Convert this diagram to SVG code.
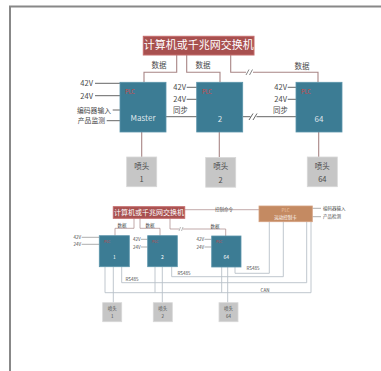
<svg xmlns="http://www.w3.org/2000/svg" width="381" height="371" viewBox="0 0 381 371">
<defs>
<style>
text{font-family:"Noto Sans CJK SC","Noto Sans",sans-serif;}
.red{fill:#a8504f;stroke:#c46a6a;stroke-width:1;}
.blue{fill:#3c7c94;stroke:#5b94aa;stroke-width:0.8;}
.gray{fill:#c6c6c6;stroke:#d8d8d8;stroke-width:0.8;}
.org{fill:#c48a62;stroke:#d4a080;stroke-width:0.8;}
.c{fill:none;stroke:#a88585;stroke-width:1.1;}
.cs{fill:none;stroke:#a88585;stroke-width:0.7;}
.g{fill:none;stroke:#b9c1c8;stroke-width:0.9;}
.k{stroke:#666;stroke-width:1;}
.ks{stroke:#777;stroke-width:0.6;}
.wt{fill:#ffffff;}
.lt{fill:#4a4a4a;}
.pl{fill:#d04848;}
</style>
</defs>
<rect width="381" height="371" fill="#fff"/>
<path d="M10 371 V6.5 H381" fill="none" stroke="#888" stroke-width="2"/>

<g id="connectors">
<path class="c" d="M176.7 55 V72.3 H144 V82"/>
<path class="c" d="M186.7 55 V72.3 H220 V82"/>
<path class="c" d="M230.7 55 V72.3 H246 M253 72.3 H318 V82"/>
<path d="M246 75 L249 69.5 M249.5 75 L252.5 69.5" stroke="#777" stroke-width="0.9"/>
<path class="k" d="M166 116.7 H197"/>
<path class="k" d="M243 116.7 H250.5 M256.5 116.7 H296"/>
<path d="M249 120 L253 113.5 M253 120 L257 113.5" stroke="#666" stroke-width="1"/>
<path class="k" d="M95 83.3 H120 M95 95.7 H120 M112.7 110 H120 M106.7 120.7 H120"/>
<path class="k" d="M186.7 87.3 H197 M186.7 99.3 H197"/>
<path class="k" d="M287.7 87.3 H296 M287.7 99.3 H296"/>
<path class="c" d="M141.7 132 V157 M219.3 132 V157 M318.7 132 V157"/>

<path class="cs" d="M134 218.3 V228.3 H115 V235.7"/>
<path class="cs" d="M140 218.3 V228.3 H160 V235.7"/>
<path class="cs" d="M170 218.3 V229 H179 M183 229 H225.7 V236"/>
<path d="M179 231 L180.5 227 M181.5 231 L183 227" stroke="#888" stroke-width="0.6"/>
<path class="cs" d="M184.7 209.7 H259"/>
<path class="ks" d="M312.3 208.3 H321 M312.3 216.7 H321"/>
<path class="ks" d="M81.7 237.3 H99.3 M81.7 244.3 H99.3"/>
<path class="ks" d="M141 239.3 H147.7 M141 247 H147.7"/>
<path class="ks" d="M204.5 239.3 H211.7 M204.5 247 H211.7"/>
<path class="g" d="M269.3 221.7 V273.3 H235 V267"/>
<path class="g" d="M283.3 221.7 V276.7 H171.7 V266.7"/>
<path class="g" d="M306.7 221.7 V282.7 H121.7 V266.7"/>
<path class="g" d="M311 221.7 V292.7 H105 V266.7 M155 292.7 V266.7 M221.7 292.7 V267"/>
<path class="g" d="M113.3 266.7 V302.7 M162.3 266.7 V302.7 M227.7 267 V302.7"/>
</g>

<g id="switch-top">
<rect class="red" x="143.3" y="36.3" width="110.7" height="18.7"/>
<text class="wt" x="198.7" y="49.3" font-size="11" text-anchor="middle">计算机或千兆网交换机</text>
</g>
<g id="labels-top" font-size="7.5">
<text class="lt" x="159" y="68" text-anchor="middle">数据</text>
<text class="lt" x="203" y="68" text-anchor="middle">数据</text>
<text class="lt" x="302" y="69" text-anchor="middle">数据</text>
<text class="lt" x="93" y="86" text-anchor="end">42V</text>
<text class="lt" x="93" y="98.5" text-anchor="end">24V</text>
<text class="lt" x="111" y="112.7" text-anchor="end" font-size="6.8">编码器输入</text>
<text class="lt" x="105" y="123.4" text-anchor="end" font-size="6.8">产品监测</text>
<text class="lt" x="186" y="90" text-anchor="end">42V</text>
<text class="lt" x="186" y="102" text-anchor="end">24V</text>
<text class="lt" x="173" y="112.7">同步</text>
<text class="lt" x="287" y="90" text-anchor="end">42V</text>
<text class="lt" x="287" y="102" text-anchor="end">24V</text>
<text class="lt" x="273" y="112.7">同步</text>
</g>
<g id="master">
<rect class="blue" x="120" y="82.3" width="46" height="49.7"/>
<text class="pl" x="125" y="94" font-size="5.5">PLC</text>
<text class="wt" x="143" y="121" font-size="8" text-anchor="middle" fill-opacity="0.85">Master</text>
</g>
<g id="node2">
<rect class="blue" x="196.7" y="82.3" width="46" height="49.7"/>
<text class="pl" x="202" y="94" font-size="5.5">PLC</text>
<text class="wt" x="220" y="122" font-size="8" text-anchor="middle" fill-opacity="0.85">2</text>
</g>
<g id="node64">
<rect class="blue" x="296" y="82.3" width="46" height="49.7"/>
<text class="pl" x="301" y="94" font-size="5.5">PLC</text>
<text class="wt" x="319" y="122" font-size="8" text-anchor="middle" fill-opacity="0.85">64</text>
</g>
<g id="nozzle1">
<rect class="gray" x="126.7" y="157" width="30" height="29.7"/>
<text class="lt" x="141.7" y="168.5" font-size="7.5" text-anchor="middle">喷头</text>
<text class="lt" x="141.7" y="181.5" font-size="7.5" text-anchor="middle">1</text>
</g>
<g id="nozzle2">
<rect class="gray" x="205.7" y="157.5" width="30" height="29.7"/>
<text class="lt" x="220.7" y="169" font-size="7.5" text-anchor="middle">喷头</text>
<text class="lt" x="220.7" y="183" font-size="7.5" text-anchor="middle">2</text>
</g>
<g id="nozzle64">
<rect class="gray" x="307.3" y="157" width="30" height="29.7"/>
<text class="lt" x="322.3" y="168.5" font-size="7.5" text-anchor="middle">喷头</text>
<text class="lt" x="322.3" y="181.5" font-size="7.5" text-anchor="middle">64</text>
</g>

<g id="switch-bottom">
<rect class="red" x="113.3" y="206.7" width="71.4" height="11.6"/>
<text class="wt" x="149" y="215.3" font-size="7" text-anchor="middle">计算机或千兆网交换机</text>
</g>
<g id="plc">
<rect class="org" x="259" y="206" width="53.3" height="15.7"/>
<text x="285.6" y="212.3" font-size="4.5" text-anchor="middle" fill="#f0c8a8">PLC</text>
<text class="wt" x="285.6" y="219" font-size="4.5" text-anchor="middle">运动控制卡</text>
</g>
<g id="labels-bottom" font-size="4.5">
<text class="lt" x="215" y="211">控制命令</text>
<text class="lt" x="122" y="227" text-anchor="middle">数据</text>
<text class="lt" x="150" y="227" text-anchor="middle">数据</text>
<text class="lt" x="215" y="227.5" text-anchor="middle">数据</text>
<text class="lt" x="323" y="210">编码器输入</text>
<text class="lt" x="323" y="218.3">产品检测</text>
<text class="lt" x="81" y="239" text-anchor="end">42V</text>
<text class="lt" x="81" y="246" text-anchor="end">24V</text>
<text class="lt" x="140.5" y="241" text-anchor="end">42V</text>
<text class="lt" x="140.5" y="248.7" text-anchor="end">24V</text>
<text class="lt" x="204" y="241" text-anchor="end">42V</text>
<text class="lt" x="204" y="248.7" text-anchor="end">24V</text>
<text class="lt" x="253" y="270.3" text-anchor="middle">RS485</text>
<text class="lt" x="184" y="275" text-anchor="middle">RS485</text>
<text class="lt" x="132" y="281" text-anchor="middle">RS485</text>
<text class="lt" x="265" y="291.5" text-anchor="middle">CAN</text>
</g>
<g id="b-node1">
<rect class="blue" x="99.3" y="235.7" width="30" height="31"/>
<text class="pl" x="104" y="243" font-size="3.5">PLC</text>
<text class="wt" x="114.3" y="259" font-size="5" text-anchor="middle">1</text>
</g>
<g id="b-node2">
<rect class="blue" x="147.7" y="235.7" width="29.6" height="31"/>
<text class="pl" x="152" y="243" font-size="3.5">PLC</text>
<text class="wt" x="162.5" y="259" font-size="5" text-anchor="middle">2</text>
</g>
<g id="b-node64">
<rect class="blue" x="211.7" y="236" width="29.3" height="31"/>
<text class="pl" x="216" y="243" font-size="3.5">PLC</text>
<text class="wt" x="226.3" y="259" font-size="5" text-anchor="middle">64</text>
</g>
<g id="b-nozzle1">
<rect class="gray" x="102.7" y="302.7" width="19" height="19"/>
<text class="lt" x="112.2" y="310" font-size="4.5" text-anchor="middle">喷头</text>
<text class="lt" x="112.2" y="318" font-size="4.5" text-anchor="middle">1</text>
</g>
<g id="b-nozzle2">
<rect class="gray" x="153.3" y="302.7" width="19" height="19"/>
<text class="lt" x="162.8" y="310" font-size="4.5" text-anchor="middle">喷头</text>
<text class="lt" x="162.8" y="318" font-size="4.5" text-anchor="middle">2</text>
</g>
<g id="b-nozzle64">
<rect class="gray" x="219" y="302.7" width="19" height="19"/>
<text class="lt" x="228.5" y="310" font-size="4.5" text-anchor="middle">喷头</text>
<text class="lt" x="228.5" y="318" font-size="4.5" text-anchor="middle">64</text>
</g>
</svg>
